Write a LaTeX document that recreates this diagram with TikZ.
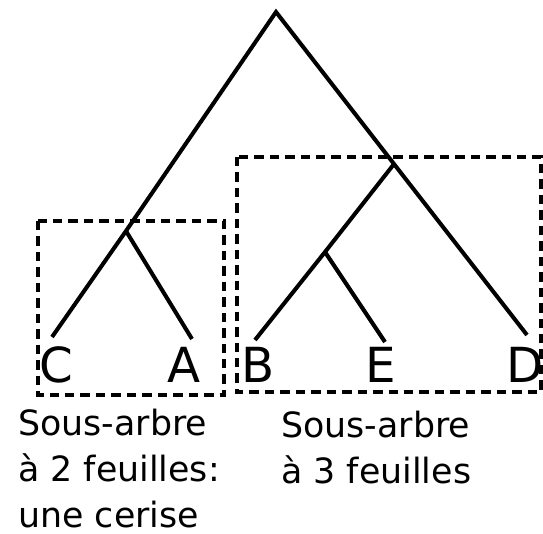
\documentclass[tikz,border=0pt]{standalone}
\usepackage{fontspec}
\setmainfont{DejaVu Sans}
\usetikzlibrary{positioning}

\begin{document}
\begin{tikzpicture}[
    x=0.02cm, y=-0.02cm,
    branch/.style = {draw, line width=2.3pt, line join=miter},
    leaf/.style = {anchor=base, inner sep=0pt, font=\fontsize{27.5}{32}\selectfont},
    subtree/.style = {draw, dash pattern=on 5.4pt off 3.4pt, line width=2.3pt},
    caption/.style = {anchor=base west, align=left, inner sep=0pt, font=\fontsize{19.8}{26}\selectfont}
  ]
    \useasboundingbox (0,0) rectangle (543,533);

    \coordinate (root) at (276,12);
    \coordinate (cherry) at (126,231);
    \coordinate (right) at (394,164);
    \coordinate (inner) at (325,252);
    \coordinate (tipC) at (52,337);
    \coordinate (tipA) at (192,339);
    \coordinate (tipB) at (255,340);
    \coordinate (tipE) at (385,342);
    \coordinate (tipD) at (527,335);

    \node [leaf] (C) at (56,382) {C};
    \node [leaf] (A) at (184,382) {A};
    \node [leaf] (B) at (258,382) {B};
    \node [leaf] (E) at (381,382) {E};
    \node [leaf] (D) at (525,382) {D};

    \draw [branch] (tipC) -- (cherry) -- (root) -- (right) -- (tipD);
    \draw [branch] (cherry) -- (tipA);
    \draw [branch] (right) -- (inner) -- (tipB);
    \draw [branch] (inner) -- (tipE);

    \draw [subtree] (38,221) rectangle (224,395);
    \draw [subtree] (237,157) rectangle (541,392);

    \node [caption] (left text) at (18,527) {Sous-arbre\\à 2 feuilles:\\une cerise};
    \node [caption] (right text) at (281,483) {Sous-arbre\\à 3 feuilles};
\end{tikzpicture}
\end{document}
